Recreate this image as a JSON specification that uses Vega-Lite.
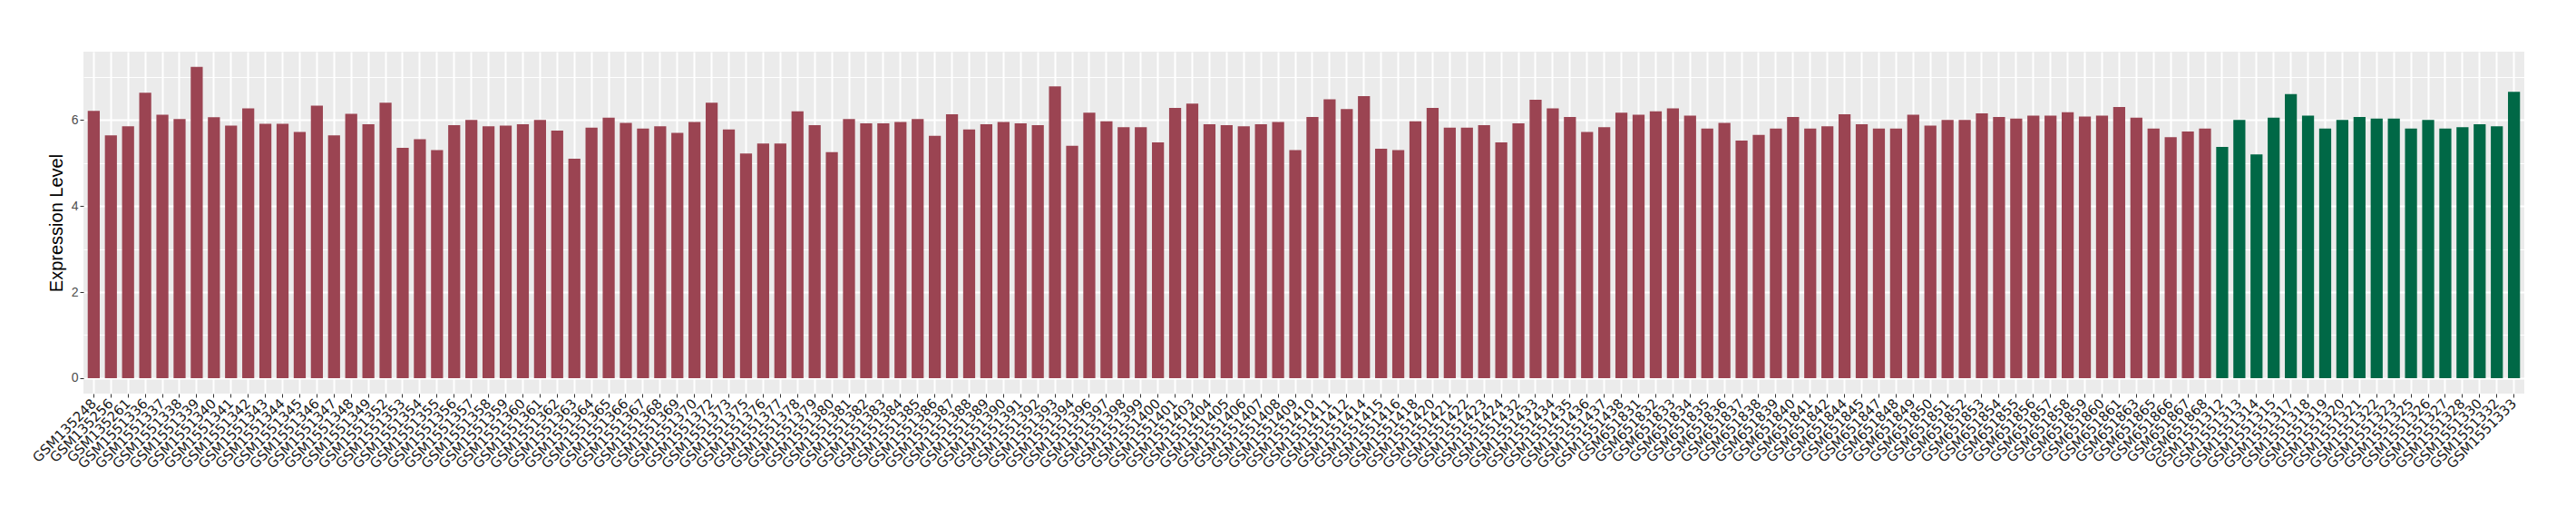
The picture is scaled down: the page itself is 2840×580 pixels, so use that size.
{
  "$schema": "https://vega.github.io/schema/vega-lite/v6.json",
  "autosize": "none",
  "width": 2691,
  "height": 377,
  "padding": {"left": 92, "top": 57, "right": 57, "bottom": 146},
  "background": "white",
  "view": {"fill": "#EBEBEB", "stroke": null},
  "data": {"values": [
    {"sample": "GSM135248", "value": 6.21, "batch": "A"},
    {"sample": "GSM135256", "value": 5.64, "batch": "A"},
    {"sample": "GSM135261", "value": 5.85, "batch": "A"},
    {"sample": "GSM1551336", "value": 6.63, "batch": "A"},
    {"sample": "GSM1551337", "value": 6.12, "batch": "A"},
    {"sample": "GSM1551338", "value": 6.02, "batch": "A"},
    {"sample": "GSM1551339", "value": 7.23, "batch": "A"},
    {"sample": "GSM1551340", "value": 6.06, "batch": "A"},
    {"sample": "GSM1551341", "value": 5.87, "batch": "A"},
    {"sample": "GSM1551342", "value": 6.27, "batch": "A"},
    {"sample": "GSM1551343", "value": 5.91, "batch": "A"},
    {"sample": "GSM1551344", "value": 5.91, "batch": "A"},
    {"sample": "GSM1551345", "value": 5.72, "batch": "A"},
    {"sample": "GSM1551346", "value": 6.33, "batch": "A"},
    {"sample": "GSM1551347", "value": 5.64, "batch": "A"},
    {"sample": "GSM1551348", "value": 6.14, "batch": "A"},
    {"sample": "GSM1551349", "value": 5.9, "batch": "A"},
    {"sample": "GSM1551352", "value": 6.4, "batch": "A"},
    {"sample": "GSM1551353", "value": 5.35, "batch": "A"},
    {"sample": "GSM1551354", "value": 5.55, "batch": "A"},
    {"sample": "GSM1551355", "value": 5.3, "batch": "A"},
    {"sample": "GSM1551356", "value": 5.88, "batch": "A"},
    {"sample": "GSM1551357", "value": 6.0, "batch": "A"},
    {"sample": "GSM1551358", "value": 5.85, "batch": "A"},
    {"sample": "GSM1551359", "value": 5.87, "batch": "A"},
    {"sample": "GSM1551360", "value": 5.9, "batch": "A"},
    {"sample": "GSM1551361", "value": 6.0, "batch": "A"},
    {"sample": "GSM1551362", "value": 5.75, "batch": "A"},
    {"sample": "GSM1551363", "value": 5.1, "batch": "A"},
    {"sample": "GSM1551364", "value": 5.82, "batch": "A"},
    {"sample": "GSM1551365", "value": 6.05, "batch": "A"},
    {"sample": "GSM1551366", "value": 5.93, "batch": "A"},
    {"sample": "GSM1551367", "value": 5.8, "batch": "A"},
    {"sample": "GSM1551368", "value": 5.85, "batch": "A"},
    {"sample": "GSM1551369", "value": 5.7, "batch": "A"},
    {"sample": "GSM1551370", "value": 5.95, "batch": "A"},
    {"sample": "GSM1551372", "value": 6.4, "batch": "A"},
    {"sample": "GSM1551373", "value": 5.78, "batch": "A"},
    {"sample": "GSM1551375", "value": 5.22, "batch": "A"},
    {"sample": "GSM1551376", "value": 5.45, "batch": "A"},
    {"sample": "GSM1551377", "value": 5.45, "batch": "A"},
    {"sample": "GSM1551378", "value": 6.2, "batch": "A"},
    {"sample": "GSM1551379", "value": 5.88, "batch": "A"},
    {"sample": "GSM1551380", "value": 5.25, "batch": "A"},
    {"sample": "GSM1551381", "value": 6.02, "batch": "A"},
    {"sample": "GSM1551382", "value": 5.92, "batch": "A"},
    {"sample": "GSM1551383", "value": 5.92, "batch": "A"},
    {"sample": "GSM1551384", "value": 5.95, "batch": "A"},
    {"sample": "GSM1551385", "value": 6.02, "batch": "A"},
    {"sample": "GSM1551386", "value": 5.63, "batch": "A"},
    {"sample": "GSM1551387", "value": 6.13, "batch": "A"},
    {"sample": "GSM1551388", "value": 5.78, "batch": "A"},
    {"sample": "GSM1551389", "value": 5.9, "batch": "A"},
    {"sample": "GSM1551390", "value": 5.95, "batch": "A"},
    {"sample": "GSM1551391", "value": 5.92, "batch": "A"},
    {"sample": "GSM1551392", "value": 5.88, "batch": "A"},
    {"sample": "GSM1551393", "value": 6.78, "batch": "A"},
    {"sample": "GSM1551394", "value": 5.4, "batch": "A"},
    {"sample": "GSM1551396", "value": 6.17, "batch": "A"},
    {"sample": "GSM1551397", "value": 5.97, "batch": "A"},
    {"sample": "GSM1551398", "value": 5.83, "batch": "A"},
    {"sample": "GSM1551399", "value": 5.83, "batch": "A"},
    {"sample": "GSM1551400", "value": 5.48, "batch": "A"},
    {"sample": "GSM1551401", "value": 6.28, "batch": "A"},
    {"sample": "GSM1551403", "value": 6.38, "batch": "A"},
    {"sample": "GSM1551404", "value": 5.9, "batch": "A"},
    {"sample": "GSM1551405", "value": 5.88, "batch": "A"},
    {"sample": "GSM1551406", "value": 5.85, "batch": "A"},
    {"sample": "GSM1551407", "value": 5.9, "batch": "A"},
    {"sample": "GSM1551408", "value": 5.95, "batch": "A"},
    {"sample": "GSM1551409", "value": 5.3, "batch": "A"},
    {"sample": "GSM1551410", "value": 6.07, "batch": "A"},
    {"sample": "GSM1551411", "value": 6.48, "batch": "A"},
    {"sample": "GSM1551412", "value": 6.25, "batch": "A"},
    {"sample": "GSM1551414", "value": 6.55, "batch": "A"},
    {"sample": "GSM1551415", "value": 5.33, "batch": "A"},
    {"sample": "GSM1551416", "value": 5.3, "batch": "A"},
    {"sample": "GSM1551418", "value": 5.97, "batch": "A"},
    {"sample": "GSM1551420", "value": 6.28, "batch": "A"},
    {"sample": "GSM1551421", "value": 5.82, "batch": "A"},
    {"sample": "GSM1551422", "value": 5.82, "batch": "A"},
    {"sample": "GSM1551423", "value": 5.88, "batch": "A"},
    {"sample": "GSM1551424", "value": 5.48, "batch": "A"},
    {"sample": "GSM1551432", "value": 5.92, "batch": "A"},
    {"sample": "GSM1551433", "value": 6.47, "batch": "A"},
    {"sample": "GSM1551434", "value": 6.27, "batch": "A"},
    {"sample": "GSM1551435", "value": 6.07, "batch": "A"},
    {"sample": "GSM1551436", "value": 5.72, "batch": "A"},
    {"sample": "GSM1551437", "value": 5.83, "batch": "A"},
    {"sample": "GSM1551438", "value": 6.17, "batch": "A"},
    {"sample": "GSM651831", "value": 6.12, "batch": "A"},
    {"sample": "GSM651832", "value": 6.2, "batch": "A"},
    {"sample": "GSM651833", "value": 6.27, "batch": "A"},
    {"sample": "GSM651834", "value": 6.1, "batch": "A"},
    {"sample": "GSM651835", "value": 5.8, "batch": "A"},
    {"sample": "GSM651836", "value": 5.93, "batch": "A"},
    {"sample": "GSM651837", "value": 5.52, "batch": "A"},
    {"sample": "GSM651838", "value": 5.65, "batch": "A"},
    {"sample": "GSM651839", "value": 5.8, "batch": "A"},
    {"sample": "GSM651840", "value": 6.07, "batch": "A"},
    {"sample": "GSM651841", "value": 5.8, "batch": "A"},
    {"sample": "GSM651842", "value": 5.85, "batch": "A"},
    {"sample": "GSM651844", "value": 6.13, "batch": "A"},
    {"sample": "GSM651845", "value": 5.9, "batch": "A"},
    {"sample": "GSM651847", "value": 5.8, "batch": "A"},
    {"sample": "GSM651848", "value": 5.8, "batch": "A"},
    {"sample": "GSM651849", "value": 6.12, "batch": "A"},
    {"sample": "GSM651850", "value": 5.87, "batch": "A"},
    {"sample": "GSM651851", "value": 6.0, "batch": "A"},
    {"sample": "GSM651852", "value": 6.0, "batch": "A"},
    {"sample": "GSM651853", "value": 6.15, "batch": "A"},
    {"sample": "GSM651854", "value": 6.07, "batch": "A"},
    {"sample": "GSM651855", "value": 6.03, "batch": "A"},
    {"sample": "GSM651856", "value": 6.1, "batch": "A"},
    {"sample": "GSM651857", "value": 6.1, "batch": "A"},
    {"sample": "GSM651858", "value": 6.18, "batch": "A"},
    {"sample": "GSM651859", "value": 6.08, "batch": "A"},
    {"sample": "GSM651860", "value": 6.1, "batch": "A"},
    {"sample": "GSM651861", "value": 6.3, "batch": "A"},
    {"sample": "GSM651863", "value": 6.05, "batch": "A"},
    {"sample": "GSM651865", "value": 5.8, "batch": "A"},
    {"sample": "GSM651866", "value": 5.6, "batch": "A"},
    {"sample": "GSM651867", "value": 5.73, "batch": "A"},
    {"sample": "GSM651868", "value": 5.8, "batch": "A"},
    {"sample": "GSM1551312", "value": 5.37, "batch": "B"},
    {"sample": "GSM1551313", "value": 6.0, "batch": "B"},
    {"sample": "GSM1551314", "value": 5.2, "batch": "B"},
    {"sample": "GSM1551315", "value": 6.05, "batch": "B"},
    {"sample": "GSM1551317", "value": 6.6, "batch": "B"},
    {"sample": "GSM1551318", "value": 6.1, "batch": "B"},
    {"sample": "GSM1551319", "value": 5.8, "batch": "B"},
    {"sample": "GSM1551320", "value": 6.0, "batch": "B"},
    {"sample": "GSM1551321", "value": 6.07, "batch": "B"},
    {"sample": "GSM1551322", "value": 6.03, "batch": "B"},
    {"sample": "GSM1551323", "value": 6.03, "batch": "B"},
    {"sample": "GSM1551325", "value": 5.8, "batch": "B"},
    {"sample": "GSM1551326", "value": 6.0, "batch": "B"},
    {"sample": "GSM1551327", "value": 5.8, "batch": "B"},
    {"sample": "GSM1551328", "value": 5.83, "batch": "B"},
    {"sample": "GSM1551330", "value": 5.9, "batch": "B"},
    {"sample": "GSM1551332", "value": 5.85, "batch": "B"},
    {"sample": "GSM1551333", "value": 6.65, "batch": "B"}
  ]},
  "mark": {"type": "bar"},
  "encoding": {
    "x": {
      "field": "sample",
      "type": "nominal",
      "sort": null,
      "scale": {"paddingInner": 0.3, "paddingOuter": 0.25},
      "axis": {
        "title": null,
        "domain": false,
        "grid": true,
        "gridColor": "white",
        "gridWidth": 2,
        "bandPosition": 0.5,
        "ticks": true,
        "tickColor": "#333333",
        "tickSize": 4,
        "tickWidth": 1,
        "labelAngle": -45,
        "labelAlign": "right",
        "labelBaseline": "middle",
        "labelPadding": 4,
        "labelFont": "DejaVu Sans",
        "labelFontSize": 15,
        "labelColor": "#1a1a1a",
        "labelOverlap": false,
        "labelLimit": 0
      }
    },
    "y": {
      "field": "value",
      "type": "quantitative",
      "scale": {"domain": [-0.36, 7.585], "nice": false, "zero": false},
      "axis": {
        "title": "Expression Level",
        "titleFont": "Liberation Sans",
        "titleFontSize": 20,
        "titleFontWeight": "normal",
        "titleColor": "black",
        "titlePadding": 6,
        "values": [0, 1, 2, 3, 4, 5, 6, 7],
        "domain": false,
        "grid": true,
        "gridColor": "white",
        "gridWidth": {"condition": {"test": "datum.value % 2 === 1", "value": 1}, "value": 2},
        "tickColor": "#333333",
        "tickSize": 4,
        "tickOpacity": {"condition": {"test": "datum.value % 2 === 1", "value": 0}, "value": 1},
        "labelExpr": "datum.value % 2 === 0 ? datum.label : ''",
        "labelFont": "Liberation Sans",
        "labelFontSize": 14,
        "labelColor": "#4D4D4D",
        "labelPadding": 2
      }
    },
    "color": {
      "field": "batch",
      "type": "nominal",
      "scale": {"domain": ["A", "B"], "range": ["#9B4452", "#006846"]},
      "legend": null
    }
  }
}
